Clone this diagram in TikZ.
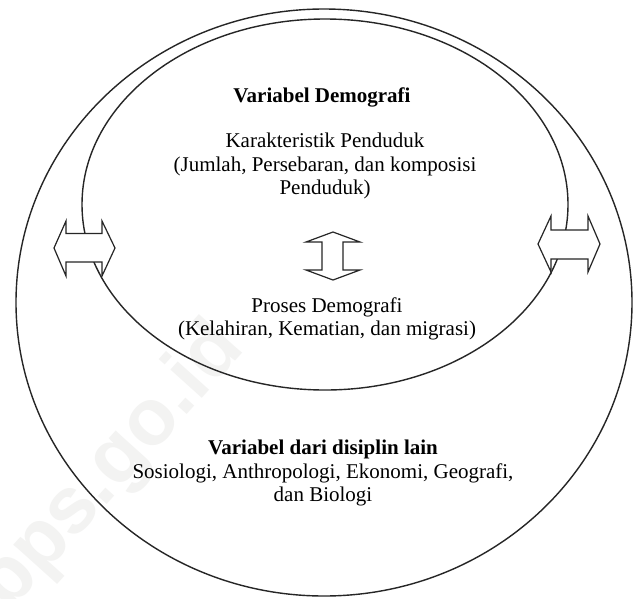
\documentclass[tikz,border=0pt]{standalone}
\usepackage{fontspec}
\setmainfont{Liberation Serif}
\newfontfamily\markfont{Liberation Sans}
\begin{document}
\begin{tikzpicture}[x=1pt,y=-1pt,
  ring/.style={draw=black!85,line width=1.4pt},
  dblarrow/.style={draw=black!85,line width=1.2pt,fill=white,line join=miter},
  label/.style={align=center,font=\fontsize{21}{23.5}\selectfont,inner sep=0pt},
  title/.style={label,font=\fontsize{21}{23.5}\selectfont\bfseries}]
\useasboundingbox (0,0) rectangle (640,598);
\fill[white] (0,0) rectangle (640,598);

% faint watermark
\node[rotate=48,text=orange!6!black!5,font=\markfont\fontsize{80}{80}\selectfont\bfseries] (wm) at (112,468) {bps.go.id};

% the two nested ellipses
\draw[ring] (324,302.5) ellipse [x radius=308, y radius=293.5];
\draw[ring] (325,204.5) ellipse [x radius=243, y radius=185.5];

% horizontal double arrows on the inner boundary
\draw[dblarrow] (54,248) -- (66,221) -- (66,233.5) -- (102,233.5) -- (102,221) -- (115,248)
  -- (102,276) -- (102,262) -- (66,262) -- (66,276) -- cycle;
\draw[dblarrow] (538,244) -- (551,216) -- (551,230) -- (588,230) -- (588,216) -- (600,244)
  -- (588,272) -- (588,259) -- (551,259) -- (551,272) -- cycle;

% vertical double arrow between the two blocks
\draw[dblarrow] (333,232) -- (360,242) -- (343,242) -- (343,270) -- (360,270) -- (333,280)
  -- (306,270) -- (322,270) -- (322,242) -- (306,242) -- cycle;

% texts
\node[title] (demo) at (322,97) {Variabel Demografi};
\node[label] (kar) at (325,166) {Karakteristik Penduduk\\(Jumlah, Persebaran, dan komposisi\\Penduduk)};
\node[label] (proses) at (327,319) {Proses Demografi\\(Kelahiran, Kematian, dan migrasi)};
\node[title] (lain) at (323,449) {Variabel dari disiplin lain};
\node[label] (disiplin) at (323,485) {Sosiologi, Anthropologi, Ekonomi, Geografi,\\dan Biologi};
\end{tikzpicture}
\end{document}
